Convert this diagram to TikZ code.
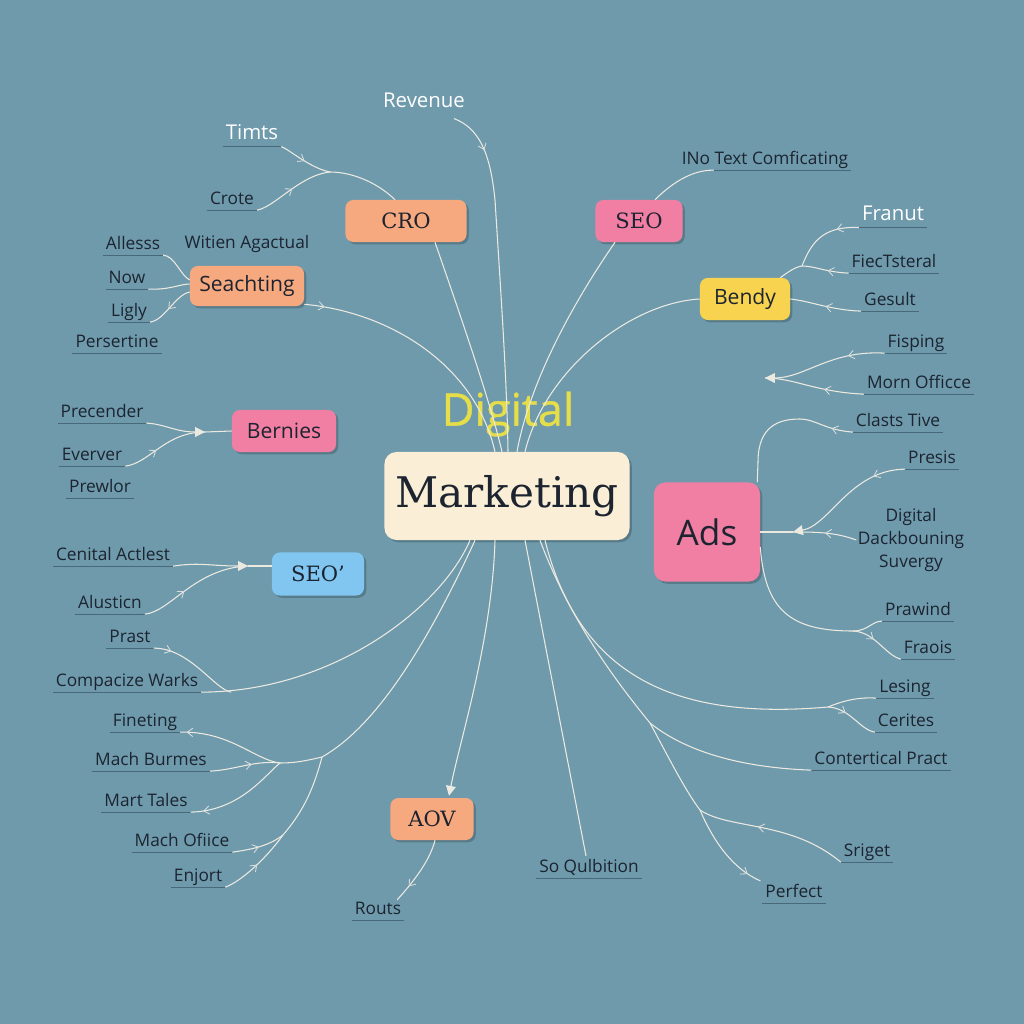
\documentclass[tikz,border=0pt]{standalone}
\usepackage{fontspec}
\setmainfont{Open Sans}
\newfontfamily\bxserif{DejaVu Serif}
\newfontfamily\digfont[FakeBold=0.9]{Open Sans}
\usetikzlibrary{arrows.meta,calc,decorations.markings,shadows}
\definecolor{bg}{HTML}{6E9AAC}
\definecolor{orng}{HTML}{F6A87F}
\definecolor{pnk}{HTML}{F07FA3}
\definecolor{ylw}{HTML}{F8D34F}
\definecolor{blu}{HTML}{80C6F0}
\definecolor{crm}{HTML}{FAEFD6}
\definecolor{lc}{HTML}{ECEAE0}
\definecolor{dk}{HTML}{1C2430}
\definecolor{ul}{HTML}{48697A}
\definecolor{dgy}{HTML}{E6DE48}
\definecolor{tk}{HTML}{D9DEDC}
\begin{document}
\begin{tikzpicture}[x=0.025cm,y=-0.025cm,
  conn/.style={draw=lc, line width=0.75pt},
  tick/.style={postaction={decorate}, decoration={markings, mark=at position #1 with {\arrow[tk,line width=0.6pt]{Straight Barb[length=4pt,width=6pt]}}}},
  tickr/.style={postaction={decorate}, decoration={markings, mark=at position #1 with {\arrowreversed[tk,line width=0.6pt]{Straight Barb[length=4pt,width=6pt]}}}},
  bigtip/.style={-{Triangle[length=7pt,width=7pt]}},
  box/.style={rounded corners=5.5pt, inner sep=0pt, align=center,
    drop shadow={shadow xshift=1.6pt,shadow yshift=-1.6pt,fill=black,opacity=0.2}},
  lbl/.style={text=dk, font=\fontsize{12.3}{14}\selectfont, inner xsep=2pt, inner ysep=1pt, text height=9pt, text depth=3pt},
  wlbl/.style={text=white, font=\fontsize{14.5}{16}\selectfont, inner xsep=2pt, inner ysep=1pt, text height=10.5pt, text depth=3.5pt},
  uline/.style={draw=ul, line width=0.7pt}
]
\useasboundingbox (0,0) rectangle (1024,1024);
\fill[bg] (0,0) rectangle (1024,1024);

% ---------- boxes ----------
\node[box, fill=orng, minimum width=3.025cm, minimum height=1.05cm, font=\bxserif\fontsize{15}{16}\selectfont, text=dk] (cro) at (406,221) {CRO};
\node[box, fill=pnk, minimum width=2.175cm, minimum height=1.05cm, font=\bxserif\fontsize{15}{16}\selectfont, text=dk] (seo) at (639,221) {SEO};
\node[box, fill=orng, minimum width=2.85cm, minimum height=1.0cm, font=\fontsize{15}{16}\selectfont, text=dk] (seach) at (247,286) {Seachting};
\node[box, fill=ylw, minimum width=2.25cm, minimum height=1.05cm, font=\fontsize{15}{16}\selectfont, text=dk] (bendy) at (745,299) {Bendy};
\node[box, fill=pnk, minimum width=2.6cm, minimum height=1.05cm, font=\fontsize{15}{16}\selectfont, text=dk] (bern) at (284,431) {Bernies};
\node[box, fill=crm, rounded corners=8.5pt, minimum width=6.125cm, minimum height=2.2cm, font=\bxserif\fontsize{30}{32}\selectfont, text=dk] (mkt) at (507,496) {Marketing};
\node[box, fill=pnk, rounded corners=8pt, minimum width=2.65cm, minimum height=2.475cm, font=\fontsize{25}{26}\selectfont, text=dk] (ads) at (707,532) {Ads};
\node[box, fill=blu, minimum width=2.3cm, minimum height=1.075cm, font=\bxserif\fontsize{15}{16}\selectfont, text=dk] (seo2) at (318,574) {SEO’};
\node[box, fill=orng, minimum width=2.075cm, minimum height=1.05cm, font=\bxserif\fontsize{15}{16}\selectfont, text=dk] (aov) at (432,819) {AOV};
\node[text=dgy, font=\digfont\fontsize{32}{34}\selectfont, inner sep=0pt] (digital) at (508,414) {Digital};

% ---------- labels ----------
\node[wlbl] (revenue) at (424,103) {Revenue};
\node[wlbl] (timts) at (252,135) {Timts};
\node[lbl] (crote) at (232,200) {Crote};
\node[lbl] (alle) at (133,245) {Allesss};
\node[lbl] (witien) at (247,244) {Witien Agactual};
\node[lbl] (now) at (127,279) {Now};
\node[lbl] (ligly) at (129,312) {Ligly};
\node[lbl] (pers) at (117,343) {Persertine};
\node[lbl] (inotext) at (765,160) {INo Text Comficating};
\node[wlbl] (franut) at (893,216) {Franut};
\node[lbl] (fiec) at (894,263) {FiecTsteral};
\node[lbl] (gesult) at (890,301) {Gesult};
\node[lbl] (fisping) at (916,343) {Fisping};
\node[lbl] (morn) at (919,384) {Morn Officce};
\node[lbl] (prec) at (102,413) {Precender};
\node[lbl] (everv) at (92,456) {Everver};
\node[lbl] (prewl) at (100,488) {Prewlor};
\node[lbl] (cenital) at (113,556) {Cenital Actlest};
\node[lbl] (alust) at (110,604) {Alusticn};
\node[lbl] (prast) at (130,638) {Prast};
\node[lbl] (compac) at (127,682) {Compacize Warks};
\node[lbl] (clasts) at (898,422) {Clasts Tive};
\node[lbl] (presis) at (932,459) {Presis};
\node[text=dk, font=\fontsize{12.3}{16.4}\selectfont, align=center, inner sep=1pt] (dds) at (911,540) {Digital\\Dackbouning\\Suvergy};
\node[lbl] (prawind) at (918,611) {Prawind};
\node[lbl] (fraois) at (928,649) {Fraois};
\node[lbl] (fineting) at (145,722) {Fineting};
\node[lbl] (machb) at (151,761) {Mach Burmes};
\node[lbl] (mart) at (146,802) {Mart Tales};
\node[lbl] (macho) at (182,842) {Mach Ofiice};
\node[lbl] (enjort) at (198,877) {Enjort};
\node[lbl] (routs) at (378,910) {Routs};
\node[lbl] (lesing) at (905,688) {Lesing};
\node[lbl] (cerites) at (906,722) {Cerites};
\node[lbl] (contert) at (881,760) {Contertical Pract};
\node[lbl] (sriget) at (867,852) {Sriget};
\node[lbl] (perfect) at (794,893) {Perfect};
\node[lbl] (soqul) at (589,868) {So Qulbition};

% underlines
\foreach \n in {timts,crote,alle,now,ligly,pers,franut,fiec,gesult,fisping,morn,prec,everv,prewl,cenital,alust,prast,compac,clasts,presis,prawind,fraois,fineting,machb,mart,macho,enjort,routs,lesing,cerites,contert,sriget,perfect,soqul}
  \draw[uline] (\n.south west) -- (\n.south east);
\draw[uline] ($(inotext.south west)+(35,0)$) -- (inotext.south east);

% ---------- connectors: top ----------
\draw[conn, tick=0.13] ($(revenue.south east)+(-14,4)$) .. controls (478,128) and (490,150) .. (495,200) .. controls (500,280) and (507,380) .. ($(mkt.north)+(1,0)$);
\draw[conn] ($(cro.south)+(29,0)$) .. controls (455,300) and (490,400) .. ($(mkt.north)+(-5,0)$);
\draw[conn] ($(seo.south)+(-24,0)$) .. controls (575,300) and (530,380) .. ($(mkt.north)+(10,0)$);
\draw[conn] (bendy.west) .. controls (630,303) and (545,370) .. ($(mkt.north)+(18,0)$);
\draw[conn, tick=0.08] ($(seach.south east)+(0,-2)$) .. controls (390,312) and (475,365) .. ($(mkt.north)+(-12,0)$);
\draw[conn] ($(seo.north)+(16,0)$) .. controls (670,185) and (690,170) .. ($(inotext.south west)+(35,0)$);

% CRO group
\coordinate (j1) at (330,172);
\draw[conn] ($(cro.north)+(-11,0)$) .. controls (380,185) and (355,172) .. (j1);
\draw[conn, tick=0.5] (timts.south east) .. controls (290,150) and (310,168) .. (j1);
\draw[conn, tick=0.5] (crote.south east) .. controls (275,207) and (300,175) .. (j1);

% Seachting group
\draw[conn] (alle.south east) .. controls (175,256) and (180,275) .. ($(seach.west)+(0,-6)$);
\draw[conn] (now.south east) .. controls (170,290) and (180,284) .. ($(seach.west)+(0,-2)$);
\draw[conn, tickr=0.45] (ligly.south east) .. controls (165,320) and (175,295) .. ($(seach.west)+(0,6)$);

% Bendy group
\coordinate (jb) at (802,266);
\draw[conn] ($(bendy.north east)+(-10,0)$) .. controls (788,272) and (795,267) .. (jb);
\draw[conn, tick=0.3] (franut.south west) .. controls (825,226) and (812,240) .. (jb);
\draw[conn, tick=0.45] (fiec.south west) .. controls (825,272) and (815,266) .. (jb);
\draw[conn, tick=0.5] (gesult.south west) .. controls (830,310) and (810,301) .. (bendy.east);

% Fisping / Morn
\coordinate (fa) at (765,378);
\draw[conn, bigtip, tick=0.3] (fisping.south west) .. controls (830,350) and (805,378) .. (fa);
\draw[conn, tick=0.4] (morn.south west) .. controls (815,392) and (795,378) .. (fa);

% ---------- left ----------
\coordinate (jbn) at (205,432);
\draw[conn, bigtip] (prec.south east) .. controls (165,424) and (175,432) .. (jbn);
\draw[conn, tick=0.4] (everv.south east) .. controls (150,463) and (165,432) .. (jbn);
\draw[conn] (jbn) -- (bern.west);

\coordinate (js) at (248,566);
\draw[conn, bigtip] (cenital.south east) .. controls (200,562) and (210,566) .. (js);
\draw[conn, tick=0.4] (alust.south east) .. controls (170,612) and (195,568) .. (js);
\draw[conn] (js) -- ($(seo2.west)+(0,-8)$);

\draw[conn] ($(mkt.south)+(-37,0)$) .. controls (440,610) and (330,692) .. (compac.south east);
\draw[conn, tick=0.2] (prast.south east) .. controls (190,648) and (215,690) .. ($(compac.south east)+(30,0)$);

% Fineting group
\coordinate (jm) at (280,763);
\coordinate (jm2) at (322,757);
\coordinate (jm3) at (283,835);
\draw[conn] ($(mkt.south)+(-32,0)$) .. controls (420,660) and (370,730) .. (jm2) .. controls (305,761) and (295,763) .. (jm);
\draw[conn, tickr=0.06] (fineting.south east) .. controls (230,731) and (255,760) .. (jm);
\draw[conn, tick=0.6] (machb.south east) .. controls (235,770) and (255,760) .. (jm);
\draw[conn, tickr=0.12] (mart.south east) .. controls (240,811) and (265,775) .. (jm);
\draw[conn] (jm2) .. controls (312,795) and (300,815) .. (jm3);
\draw[conn, tick=0.5] (macho.south east) .. controls (255,849) and (270,845) .. (jm3);
\draw[conn, tick=0.5] (enjort.south east) .. controls (240,882) and (265,860) .. (jm3);

% AOV
\draw[conn, bigtip] ($(mkt.south)+(-12,0)$) .. controls (492,640) and (460,740) .. ($(aov.north)+(17,-2)$);
\draw[conn, tick=0.75] ($(aov.south)+(3,0)$) .. controls (430,860) and (415,880) .. ($(routs.north east)+(-7,0)$);

% ---------- bottom right ----------
\draw[conn] ($(mkt.south)+(18,0)$) -- ($(soqul.north)+(-3,-2)$);

\coordinate (jc1) at (650,723);
\coordinate (jc2) at (700,810);
\draw[conn] ($(mkt.south)+(33,0)$) .. controls (570,620) and (615,680) .. (jc1);
\draw[conn] (jc1) .. controls (690,755) and (750,768) .. (contert.south west);
\draw[conn] (jc1) .. controls (670,760) and (685,790) .. (jc2);
\draw[conn, tickr=0.4] (jc2) .. controls (730,830) and (790,820) .. (sriget.south west);
\draw[conn, tick=0.85] (jc2) .. controls (715,845) and (735,870) .. ($(perfect.north west)+(-2,-2)$);

\coordinate (jl) at (828,707);
\draw[conn] ($(mkt.south)+(38,0)$) .. controls (580,680) and (680,720) .. (jl);
\draw[conn] (jl) .. controls (845,700) and (860,697) .. (lesing.south west);
\draw[conn, tick=0.35] (jl) .. controls (850,708) and (860,730) .. (cerites.south west);

% ---------- Ads ----------
\draw[conn, tickr=0.85] ($(ads.north east)+(-3,0)$) -- (758,462) .. controls (758,425) and (780,419) .. (800,419) .. controls (815,419) and (825,430) .. (clasts.south west);
\coordinate (ja) at (793,532);
\draw[conn, bigtip, tick=0.25] (presis.south west) .. controls (850,470) and (830,525) .. (ja);
\draw[conn, tick=0.5] (dds.west) .. controls (835,532) and (815,532) .. (ja);
\draw[conn] (ja) -- (ads.east);
\coordinate (jp) at (853,631);
\draw[conn] ($(ads.east)+(0,15)$) .. controls (765,610) and (790,631) .. (jp);
\draw[conn] (jp) .. controls (868,631) and (872,621) .. (prawind.south west);
\draw[conn, tick=0.4] (jp) .. controls (875,632) and (885,655) .. (fraois.south west);
\end{tikzpicture}
\end{document}
